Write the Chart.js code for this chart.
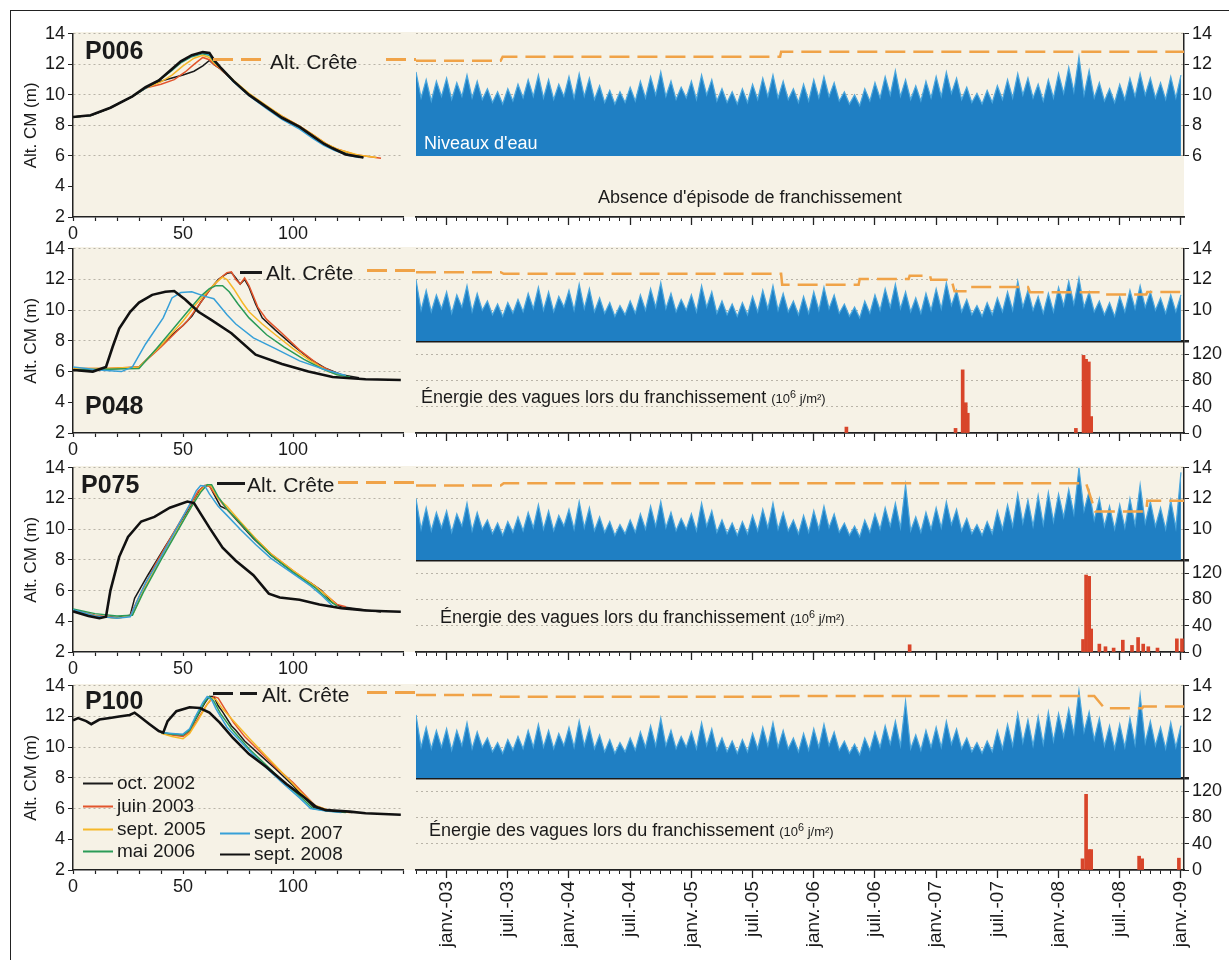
<!DOCTYPE html>
<html lang="fr">
<head>
<meta charset="UTF-8">
<title>Profils de dune et franchissements</title>
<script src="https://cdn.jsdelivr.net/npm/chart.js@4.4.1/dist/chart.umd.min.js"></script>
<style>
  body { margin: 0; background: #fff; font-family: 'Liberation Sans', Arial, sans-serif; color: #1a1a1a; }
  #figure { position: relative; width: 1229px; height: 960px; overflow: hidden; }
  .cadre { position: absolute; left: 10px; top: 10px; width: 1240px; height: 980px; border-left: 1.5px solid #222; border-top: 1.5px solid #222; }
  .fond { position: absolute; left: 73px; width: 1111px; background: #f6f2e6; }
  canvas { position: absolute; z-index: 1; }
  .txt { position: absolute; white-space: nowrap; line-height: 1; transform: translateY(-50%); z-index: 2; }
  .profil { font-weight: bold; font-size: 25px; }
  .crete { font-size: 21px; }
  .energie { font-size: 18px; }
  .energie small { font-size: 13px; }
  .trait { position: absolute; height: 2.5px; z-index: 2; }
  .noir { background: #1a1a1a; }
  .orange { background: repeating-linear-gradient(to right, #f0a348 0 20px, transparent 20px 28px); }
  .leg { font-size: 19px; }
  .leg i { display: inline-block; width: 30px; height: 2.5px; vertical-align: middle; margin-right: 4px; }
</style>
</head>
<body>
<div id="figure">
  <div class="cadre"></div>
  <div class="fond" style="top:32px;height:185px"></div>
  <div class="fond" style="top:247px;height:186px"></div>
  <div class="fond" style="top:466px;height:186px"></div>
  <div class="fond" style="top:684px;height:186px"></div>

  <div class="txt profil" style="left:85px;top:50px">P006</div>
  <div class="txt profil" style="left:85px;top:405px">P048</div>
  <div class="txt profil" style="left:81px;top:484px">P075</div>
  <div class="txt profil" style="left:85px;top:700px">P100</div>

  <div class="trait orange" style="left:213px;top:58px;width:52px"></div>
  <div class="txt crete" style="left:270px;top:61px">Alt. Crête</div>
  <div class="trait orange" style="left:386px;top:58px;width:30px"></div>

  <div class="trait noir" style="left:240px;top:271px;width:22px"></div>
  <div class="txt crete" style="left:266px;top:272px">Alt. Crête</div>
  <div class="trait orange" style="left:367px;top:269px;width:49px"></div>

  <div class="trait noir" style="left:217px;top:482px;width:28px"></div>
  <div class="txt crete" style="left:247px;top:484px">Alt. Crête</div>
  <div class="trait orange" style="left:338px;top:481px;width:78px"></div>

  <div class="trait noir" style="left:213px;top:692px;width:20px"></div>
  <div class="trait noir" style="left:240px;top:692px;width:17px"></div>
  <div class="txt crete" style="left:262px;top:694px">Alt. Crête</div>
  <div class="trait orange" style="left:367px;top:691px;width:49px"></div>

  <div class="txt" style="left:424px;top:143px;font-size:18px;color:#fff">Niveaux d'eau</div>
  <div class="txt" style="left:598px;top:197px;font-size:18px">Absence d'épisode de franchissement</div>
  <div class="txt energie" style="left:421px;top:397px">Énergie des vagues lors du franchissement <small>(10<sup>6</sup> j/m²)</small></div>
  <div class="txt energie" style="left:440px;top:617px">Énergie des vagues lors du franchissement <small>(10<sup>6</sup> j/m²)</small></div>
  <div class="txt energie" style="left:429px;top:830px">Énergie des vagues lors du franchissement <small>(10<sup>6</sup> j/m²)</small></div>

  <div id="legende"></div>
</div>

<script>
// ---- dates : mois comptés depuis janvier 2003 (0 = janv.-03, -3 = oct. 2002)
const etiquettesDates = ['janv.-03', 'juil.-03', 'janv.-04', 'juil.-04', 'janv.-05', 'juil.-05', 'janv.-06',
  'juil.-06', 'janv.-07', 'juil.-07', 'janv.-08', 'juil.-08', 'janv.-09'];
const moisMin = -3;
const moisMax = 72.3;

// ---- campagnes de levés
const campagnes = ['oct. 2002', 'juin 2003', 'sept. 2005', 'mai 2006', 'sept. 2007', 'sept. 2008'];
const couleurs = ['#1a1a1a', '#e2552c', '#f6b829', '#2b9b57', '#37a0d8', '#111111'];
const epaisseurs = [1.5, 1.5, 1.5, 1.5, 1.5, 2.6];

// ---- profils [distance (m), altitude (m CM)]
const p006_oct2002 = [[0,8.55],[8,8.65],[17,9.15],[27,9.9],[33,10.45],[40,10.9],[45,11.1],[50,11.3],[55,11.55],[59,11.9],[62,12.25],[64,12.0],[67,11.7],[73,10.9],[80,10.0],[88,9.2],[95,8.55],[103,7.9],[109,7.3],[114,6.8],[119,6.4],[125,6.1],[132,5.9]];
const p006_juin2003 = [[0,8.55],[8,8.65],[17,9.15],[27,9.9],[33,10.45],[40,10.7],[46,11.0],[51,11.5],[55,12.0],[59,12.45],[62,12.3],[64,12.0],[67,11.7],[73,10.9],[80,10.05],[88,9.25],[95,8.6],[103,7.95],[109,7.4],[115,6.8],[120,6.45],[128,6.1],[135,5.95],[140,5.85]];
const p006_sept2005 = [[0,8.55],[8,8.65],[17,9.15],[27,9.9],[33,10.45],[40,10.85],[45,11.3],[50,11.9],[55,12.4],[59,12.6],[62,12.45],[64,12.1],[67,11.75],[73,10.95],[80,10.1],[88,9.3],[95,8.6],[103,7.95],[109,7.4],[115,6.8],[121,6.4],[130,6.05],[138,5.9]];
const p006_mai2006 = [[0,8.55],[8,8.65],[17,9.15],[27,9.9],[33,10.45],[39,10.95],[45,11.6],[49,12.1],[54,12.5],[59,12.7],[62,12.6],[64,12.2],[67,11.8],[73,10.9],[80,10.0],[88,9.2],[95,8.5],[103,7.85],[109,7.25],[114,6.75],[119,6.4],[126,6.05],[131,5.95]];
const p006_sept2007 = [[0,8.55],[8,8.65],[17,9.15],[27,9.9],[33,10.45],[39,10.95],[45,11.65],[49,12.15],[54,12.55],[59,12.75],[62,12.65],[64,12.25],[67,11.8],[73,10.85],[80,9.95],[88,9.1],[95,8.4],[103,7.75],[109,7.15],[114,6.7],[119,6.35],[125,6.05],[130,5.9]];
const p006_sept2008 = [[0,8.55],[8,8.66],[17,9.16],[27,9.9],[33,10.5],[39,10.95],[45,11.7],[49,12.2],[54,12.6],[59,12.8],[62,12.75],[64,12.3],[67,11.8],[73,10.9],[80,10.0],[88,9.2],[95,8.5],[103,7.9],[109,7.3],[114,6.8],[118,6.5],[124,6.1],[132,5.9]];

const p048_oct2002 = [[0,6.2],[10,6.15],[20,6.2],[30,6.3],[35,7.0],[40,7.7],[45,8.4],[50,9.0],[54,9.6],[58,10.5],[62,11.3],[66,12.0],[70,12.4],[72,12.45],[74,12.1],[76,11.7],[78,12.0],[80,11.5],[83,10.4],[86,9.5],[92,8.7],[100,7.7],[108,6.8],[115,6.2],[122,5.8],[130,5.6]];
const p048_juin2003 = [[0,6.2],[15,6.2],[30,6.3],[40,7.6],[47,8.6],[52,9.3],[57,10.3],[62,11.3],[67,12.1],[70,12.45],[72,12.5],[74,12.0],[76,11.7],[78,12.1],[80,11.6],[84,10.2],[88,9.4],[95,8.5],[103,7.4],[112,6.4],[118,6.0],[124,5.7]];
const p048_sept2005 = [[0,6.2],[15,6.2],[30,6.3],[40,7.7],[50,9.3],[56,10.4],[61,11.2],[65,11.8],[68,12.15],[70,12.0],[73,11.4],[77,10.5],[80,9.9],[86,9.1],[92,8.4],[100,7.5],[108,6.7],[116,6.0],[124,5.7]];
const p048_mai2006 = [[0,6.1],[15,6.15],[30,6.2],[38,7.5],[45,8.7],[52,9.9],[58,10.9],[62,11.4],[65,11.6],[68,11.6],[71,11.2],[75,10.4],[80,9.5],[88,8.4],[96,7.6],[105,6.8],[113,6.2],[120,5.8],[126,5.65]];
const p048_sept2007 = [[0,6.3],[12,6.1],[22,6.0],[27,6.3],[33,7.8],[41,9.5],[45,10.8],[49,11.15],[54,11.2],[60,10.9],[64,10.75],[66,10.4],[70,9.7],[74,9.1],[82,8.2],[92,7.5],[103,6.7],[115,6.1],[124,5.75]];
const p048_sept2008 = [[0,6.1],[9,6.0],[15,6.3],[18,7.6],[21,8.8],[26,9.9],[30,10.5],[36,11.0],[42,11.2],[46,11.25],[51,10.7],[57,9.9],[63,9.35],[72,8.5],[83,7.1],[95,6.5],[107,6.0],[118,5.65],[133,5.5],[149,5.45]];

const p075_oct2002 = [[0,4.7],[10,4.35],[20,4.25],[26,4.4],[28,5.5],[34,7.0],[42,8.9],[50,10.7],[55,11.8],[58,12.6],[60,12.85],[62,12.85],[64,12.3],[67,11.5],[70,11.3],[75,10.5],[82,9.4],[90,8.3],[100,7.2],[108,6.5],[113,6.0],[118,5.2],[122,4.95],[135,4.7],[140,4.6]];
const p075_juin2003 = [[0,4.75],[10,4.4],[20,4.2],[26,4.35],[30,5.6],[37,7.6],[45,9.6],[52,11.3],[57,12.5],[60,12.85],[62,12.8],[65,12.2],[70,11.3],[76,10.4],[82,9.5],[90,8.4],[100,7.3],[110,6.3],[116,5.6],[120,5.1],[124,4.95]];
const p075_sept2005 = [[0,4.7],[10,4.35],[20,4.2],[27,4.4],[32,6.0],[40,8.1],[48,10.1],[54,11.5],[58,12.5],[61,12.9],[63,12.8],[66,12.0],[70,11.5],[76,10.5],[83,9.4],[90,8.4],[100,7.3],[110,6.3],[116,5.6],[120,5.0]];
const p075_mai2006 = [[0,4.8],[10,4.5],[20,4.35],[27,4.4],[32,5.9],[40,8.0],[48,10.0],[54,11.5],[58,12.4],[61,12.9],[63,12.9],[66,12.1],[70,11.3],[76,10.4],[83,9.3],[90,8.3],[100,7.2],[110,6.2],[116,5.4],[120,5.0]];
const p075_sept2007 = [[0,4.75],[10,4.35],[20,4.2],[26,4.3],[30,5.6],[33,6.5],[40,8.2],[48,10.3],[53,11.6],[56,12.5],[58,12.85],[60,12.8],[62,12.3],[66,11.5],[70,10.9],[76,10.0],[83,9.0],[90,8.1],[100,7.1],[108,6.3],[113,5.7],[118,5.0]];
const p075_sept2008 = [[0,4.65],[7,4.35],[12,4.2],[15,4.3],[17,6.0],[21,8.2],[25,9.5],[31,10.5],[37,10.8],[44,11.4],[52,11.8],[55,11.7],[62,10.1],[68,8.8],[74,7.95],[82,7.0],[89,5.8],[94,5.55],[103,5.4],[112,5.1],[122,4.85],[133,4.7],[142,4.65],[149,4.62]];

const p100_oct2002 = [[40,10.95],[45,10.85],[50,10.8],[53,11.1],[56,11.9],[60,12.9],[62,13.3],[64,13.3],[66,12.7],[68,12.3],[72,11.4],[74,11.1],[78,10.4],[85,9.5],[92,8.6],[100,7.5],[106,6.6],[110,6.0],[118,5.85],[127,5.75]];
const p100_juin2003 = [[40,10.95],[45,10.8],[50,10.7],[53,11.0],[57,11.9],[61,12.8],[64,13.3],[66,13.2],[69,12.5],[73,11.6],[78,10.7],[85,9.7],[92,8.7],[100,7.7],[106,6.8],[110,6.2],[116,5.9],[126,5.75]];
const p100_sept2005 = [[40,10.9],[45,10.7],[50,10.55],[53,10.9],[57,11.8],[61,12.8],[63,13.2],[65,13.1],[68,12.5],[73,11.7],[80,10.6],[88,9.4],[96,8.2],[104,7.0],[110,6.2],[116,5.9],[126,5.75]];
const p100_mai2006 = [[40,10.95],[45,10.85],[50,10.8],[53,11.1],[57,12.2],[60,13.0],[62,13.3],[64,13.0],[67,12.2],[72,11.2],[80,9.9],[88,8.8],[96,7.7],[104,6.7],[109,6.0],[116,5.85],[124,5.75]];
const p100_sept2007 = [[40,10.95],[45,10.9],[50,10.85],[53,11.2],[56,12.1],[59,12.9],[61,13.3],[63,13.1],[65,12.5],[70,11.3],[78,10.1],[86,8.9],[95,7.7],[103,6.7],[108,6.0],[115,5.85],[122,5.75]];
const p100_sept2008 = [[0,11.75],[2.3,11.9],[6,11.7],[8.3,11.5],[12,11.8],[16.7,11.9],[21,12.0],[25.8,12.1],[28,12.25],[30.3,12.0],[34.8,11.5],[39,11.05],[41,10.95],[43,11.7],[47,12.35],[53,12.6],[57.6,12.55],[62,12.25],[66.7,11.6],[72.7,10.6],[80,9.55],[88,8.7],[97,7.6],[104.5,6.8],[110.6,6.1],[115,5.9],[125.8,5.8],[133,5.7],[149,5.6]];

// ---- niveaux d'eau (m CM), une valeur tous les demi-mois depuis oct. 2002
const pasNiveaux = 0.5;
const niveauxP006 = [
  11.5, 9.8, 11.0, 9.6, 10.9, 9.9,
  11.1, 9.7, 10.8, 9.9, 11.3, 9.8, 10.9, 9.7, 10.4, 9.5, 10.2, 9.4, 10.4, 9.6, 10.7, 9.8, 11.0, 9.9, 11.3, 9.8, 11.0, 9.7, 10.7, 9.9,
  11.2, 9.8, 11.4, 9.9, 11.1, 9.7, 10.6, 9.5, 10.3, 9.4, 10.2, 9.5, 10.5, 9.6, 10.9, 9.8, 11.2, 10.0, 11.5, 9.9, 10.9, 9.7, 10.5, 9.8,
  10.9, 9.7, 11.3, 10.0, 11.0, 9.6, 10.4, 9.5, 10.2, 9.4, 10.4, 9.5, 10.7, 9.7, 11.1, 9.9, 11.3, 9.8, 10.9, 9.7, 10.4, 9.5, 10.7, 9.6,
  11.0, 9.8, 11.2, 9.9, 10.8, 9.6, 10.2, 9.4, 10.0, 9.3, 10.4, 9.6, 10.8, 9.8, 11.2, 10.0, 11.6, 9.9, 11.0, 9.7, 10.6, 9.6, 10.9, 9.8,
  11.2, 9.9, 11.5, 10.1, 11.1, 9.7, 10.5, 9.5, 10.1, 9.4, 10.3, 9.5, 10.6, 9.7, 11.0, 9.8, 11.4, 10.0, 11.1, 9.8, 10.7, 9.6, 11.0, 9.8,
  11.4, 10.1, 11.8, 10.2, 12.5, 10.0, 11.6, 9.8, 10.8, 9.6, 10.4, 9.5, 10.7, 9.7, 11.1, 9.9, 11.4, 10.0, 11.1, 9.8, 10.8, 9.7, 11.2, 9.8,
  11.3
];
const niveauxP048 = [
  12.0, 10.0, 11.3, 9.9, 11.0, 10.1,
  11.2, 9.8, 11.0, 10.2, 11.6, 9.9, 11.1, 10.0, 10.6, 9.7, 10.4, 9.6, 10.5, 9.8, 10.7, 9.9, 11.1, 10.1, 11.5, 10.0, 11.2, 9.9, 10.9, 10.2,
  11.3, 10.0, 11.7, 10.1, 11.4, 9.9, 10.8, 9.8, 10.5, 9.6, 10.3, 9.7, 10.6, 9.8, 11.0, 10.0, 11.4, 10.2, 11.8, 10.1, 11.1, 9.9, 10.7, 10.0,
  11.0, 9.9, 11.6, 10.2, 11.2, 9.8, 10.6, 9.7, 10.4, 9.6, 10.5, 9.7, 10.9, 9.9, 11.3, 10.1, 11.6, 10.0, 11.1, 9.9, 10.6, 9.7, 10.9, 9.8,
  11.2, 10.0, 11.5, 10.1, 11.0, 9.8, 10.4, 9.6, 10.2, 9.5, 10.6, 9.8, 11.0, 10.0, 11.4, 10.2, 11.7, 10.1, 11.2, 9.9, 10.8, 9.8, 11.1, 10.0,
  11.4, 10.1, 11.8, 10.3, 11.3, 9.9, 10.7, 9.7, 10.3, 9.6, 10.5, 9.7, 10.8, 9.9, 11.2, 10.0, 11.9, 10.2, 11.3, 10.0, 10.9, 9.8, 11.1, 9.9,
  11.5, 10.3, 11.9, 10.4, 12.1, 10.2, 11.2, 9.9, 10.6, 9.7, 10.5, 9.6, 10.9, 9.9, 11.3, 10.1, 11.6, 10.2, 11.2, 10.0, 10.8, 9.8, 11.0, 9.9,
  11.0
];
const niveauxP075 = [
  12.0, 10.0, 11.4, 9.9, 11.1, 10.1,
  11.2, 9.8, 11.0, 10.2, 11.7, 9.9, 11.1, 10.0, 10.6, 9.7, 10.4, 9.6, 10.5, 9.8, 10.8, 9.9, 11.1, 10.1, 11.6, 10.0, 11.2, 9.9, 10.9, 10.2,
  11.3, 10.0, 11.8, 10.1, 11.4, 9.9, 10.8, 9.8, 10.5, 9.6, 10.3, 9.7, 10.6, 9.8, 11.0, 10.0, 11.5, 10.2, 11.8, 10.1, 11.1, 9.9, 10.7, 10.0,
  11.0, 9.9, 11.7, 10.2, 11.2, 9.8, 10.6, 9.7, 10.4, 9.6, 10.5, 9.7, 10.9, 9.9, 11.3, 10.1, 11.7, 10.0, 11.1, 9.9, 10.6, 9.7, 10.9, 9.8,
  11.2, 10.0, 11.5, 10.1, 11.0, 9.8, 10.4, 9.6, 10.2, 9.5, 10.6, 9.8, 11.0, 10.0, 11.4, 10.2, 11.7, 10.1, 12.9, 9.9, 10.8, 9.8, 11.1, 10.0,
  11.4, 10.1, 11.8, 10.3, 11.3, 9.9, 10.7, 9.7, 10.3, 9.6, 10.5, 9.7, 11.2, 10.0, 11.6, 10.2, 12.3, 10.4, 11.9, 10.2, 12.2, 10.3, 12.4, 10.5,
  12.3, 10.8, 12.6, 11.0, 14.0, 11.2, 12.5, 10.6, 12.0, 10.2, 11.5, 10.0, 11.6, 10.1, 12.0, 10.3, 12.9, 10.4, 11.8, 10.2, 11.4, 10.0, 11.9, 10.1,
  13.7
];
const niveauxP100 = [
  12.1, 10.0, 11.3, 9.9, 11.1, 10.0,
  11.2, 9.8, 11.1, 10.1, 11.6, 9.9, 11.0, 10.0, 10.6, 9.7, 10.3, 9.6, 10.5, 9.8, 10.7, 9.9, 11.1, 10.0, 11.5, 10.0, 11.1, 9.9, 10.9, 10.1,
  11.3, 10.0, 11.7, 10.1, 11.3, 9.9, 10.8, 9.7, 10.5, 9.6, 10.3, 9.7, 10.6, 9.8, 11.0, 10.0, 11.4, 10.1, 11.9, 10.1, 11.1, 9.9, 10.7, 10.0,
  11.0, 9.9, 11.6, 10.1, 11.2, 9.8, 10.6, 9.7, 10.4, 9.6, 10.5, 9.7, 10.9, 9.9, 11.3, 10.1, 11.6, 10.0, 11.1, 9.9, 10.6, 9.7, 10.9, 9.8,
  11.2, 10.0, 11.5, 10.1, 11.0, 9.8, 10.4, 9.6, 10.2, 9.5, 10.6, 9.8, 11.0, 10.0, 11.4, 10.2, 11.7, 10.1, 13.0, 9.9, 10.8, 9.8, 11.1, 10.0,
  11.3, 10.0, 11.7, 10.2, 11.2, 9.9, 10.6, 9.7, 10.3, 9.6, 10.4, 9.7, 11.1, 9.9, 11.5, 10.1, 12.2, 10.3, 11.8, 10.1, 12.0, 10.2, 12.3, 10.4,
  12.2, 10.7, 12.5, 10.9, 13.7, 11.0, 12.3, 10.5, 11.9, 10.1, 11.4, 9.9, 11.5, 10.0, 11.9, 10.2, 13.4, 10.3, 11.7, 10.1, 11.3, 9.9, 11.6, 10.0,
  11.4
];

// ---- altitude de crête [mois, m CM]
const creteP006 = [[-3,12.23],[5.3,12.23],[5.5,12.5],[32.7,12.5],[32.8,12.83],[72.3,12.83]];
const creteP048 = [[-3,12.48],[5.3,12.48],[5.6,12.37],[32.8,12.37],[32.9,11.66],[40.4,11.66],[40.5,12.03],[45.3,12.03],[45.4,12.24],[47.4,12.24],[47.5,11.99],[49.5,11.99],[49.8,11.23],[51.0,11.23],[51.1,11.51],[57.0,11.51],[57.2,11.17],[64.5,11.17],[64.6,11.02],[68.6,11.02],[68.7,11.19],[72.3,11.19]];
const creteP075 = [[-3,12.84],[5.3,12.84],[5.6,12.99],[62.7,12.99],[63.6,11.16],[68.6,11.16],[68.7,11.85],[72.3,11.85]];
const creteP100 = [[-3,13.4],[4.8,13.4],[5.3,13.29],[32.5,13.29],[32.8,13.34],[63.5,13.34],[64.5,12.54],[68.2,12.54],[68.3,12.65],[72.3,12.65]];

// ---- énergie des vagues lors du franchissement [mois, 10^6 j/m²]
const energieP048 = [[39.2,9],[49.9,7],[50.6,96],[50.9,46],[51.1,30],[61.7,7],[62.45,118],[62.7,112],[62.97,108],[63.2,25]];
const energieP075 = [[45.4,11],[62.4,19],[62.7,117],[63.0,115],[63.2,35],[64.0,12],[64.6,8],[65.4,6],[66.3,18],[67.2,10],[67.8,22],[68.3,12],[68.8,8],[69.7,6],[71.6,20],[72.1,20]];
const energieP100 = [[62.35,17],[62.7,115],[62.97,31],[63.2,31],[67.9,21],[68.2,17],[71.8,18]];

const rangees = [
  { haut: 32, bas: 217, profils: [p006_oct2002, p006_juin2003, p006_sept2005, p006_mai2006, p006_sept2007, p006_sept2008], niveaux: niveauxP006, crete: creteP006, energie: null },
  { haut: 247, bas: 433, profils: [p048_oct2002, p048_juin2003, p048_sept2005, p048_mai2006, p048_sept2007, p048_sept2008], niveaux: niveauxP048, crete: creteP048, energie: energieP048 },
  { haut: 466, bas: 652, profils: [p075_oct2002, p075_juin2003, p075_sept2005, p075_mai2006, p075_sept2007, p075_sept2008], niveaux: niveauxP075, crete: creteP075, energie: energieP075 },
  { haut: 684, bas: 870, profils: [p100_oct2002, p100_juin2003, p100_sept2005, p100_mai2006, p100_sept2007, p100_sept2008], niveaux: niveauxP100, crete: creteP100, energie: energieP100 }
];

Chart.defaults.font.family = "'Liberation Sans', Arial, sans-serif";
Chart.defaults.color = '#1a1a1a';

const gris = '#b9b4a8';
const transparent = 'rgba(0,0,0,0)';
const options0 = {
  responsive: false,
  animation: false,
  events: [],
  plugins: { legend: { display: false }, tooltip: { enabled: false } }
};

function graphiqueProfil(canvas, r) {
  return new Chart(canvas, {
    type: 'line',
    data: {
      datasets: r.profils.map((p, i) => ({
        data: p,
        borderColor: couleurs[i],
        borderWidth: epaisseurs[i],
        pointRadius: 0,
        tension: 0,
        order: i === 5 ? 0 : 6 - i
      }))
    },
    options: {
      ...options0,
      layout: { padding: { top: 12, right: 7, left: 0, bottom: 0 } },
      scales: {
        x: {
          type: 'linear', min: 0, max: 150,
          afterFit: s => { s.height = 30; },
          ticks: { stepSize: 10, autoSkip: false, maxRotation: 0, font: { size: 18 }, padding: 2,
            callback: v => (v % 50 === 0 && v < 150) ? v : '' },
          grid: { drawOnChartArea: false, tickLength: 4, tickColor: '#222', tickWidth: 1.2 },
          border: { color: '#222', width: 1.5 }
        },
        y: {
          min: 2, max: 14,
          afterFit: s => { s.width = 63; },
          ticks: { stepSize: 2, autoSkip: false, font: { size: 18 }, padding: 3 },
          title: { display: true, text: 'Alt. CM (m)', font: { size: 17 }, padding: { top: 11, bottom: 0 } },
          grid: { color: c => c.tick && c.tick.value >= 6 ? gris : transparent, tickLength: 5,
            tickColor: '#222', tickBorderDash: [] },
          border: { color: '#222', width: 1.5, dash: [2, 3] }
        }
      }
    }
  });
}

function graphiqueSerie(canvas, r, hauteurAxeX, etiquettes) {
  const avecEnergie = r.energie !== null;
  const base = avecEnergie ? 8 : 6;
  const datasets = [
    {
      type: 'line',
      data: r.crete,
      xAxisID: 'x', yAxisID: 'yW',
      borderColor: '#f0a348', borderWidth: 2.5, borderDash: [20, 8],
      pointRadius: 0, tension: 0, order: 0
    },
    {
      type: 'line',
      data: r.niveaux.map((v, i) => [moisMin + i * pasNiveaux, v]),
      xAxisID: 'x', yAxisID: 'yW',
      borderColor: '#4ba7de', borderWidth: 1.2, backgroundColor: '#1f7fc3',
      fill: 'start', pointRadius: 0, tension: 0, order: 2
    }
  ];
  if (avecEnergie) {
    datasets.push({
      type: 'bar',
      data: r.energie.map(([m, e]) => ({ x: m, y: e })),
      xAxisID: 'x', yAxisID: 'yE',
      backgroundColor: '#d8452a', barThickness: 3, order: 1
    });
  }
  const yE = avecEnergie ? {
    position: 'right', stack: 'droite', stackWeight: 1, min: 0, max: 140,
    afterFit: s => { s.width = 45; },
    ticks: { stepSize: 40, includeBounds: false, autoSkip: false, font: { size: 18 }, padding: 3 },
    grid: { color: c => c.tick && c.tick.value > 0 ? gris : transparent, tickLength: 5, tickColor: '#222', tickBorderDash: [] },
    border: { color: '#222', width: 1.5, dash: [2, 3] }
  } : {
    position: 'right', stack: 'droite', stackWeight: 4, min: 2, max: 6,
    afterFit: s => { s.width = 45; },
    ticks: { display: false }, grid: { display: false }, border: { display: false }
  };
  return new Chart(canvas, {
    type: 'line',
    data: { datasets },
    options: {
      ...options0,
      layout: { padding: { top: 12, left: 4, right: 0, bottom: 0 } },
      scales: {
        xm: {
          type: 'linear', position: 'bottom', weight: 0, min: moisMin, max: moisMax, offset: false,
          afterFit: s => { s.height = 0; },
          ticks: { stepSize: 1, display: false, autoSkip: false, includeBounds: false },
          grid: { drawOnChartArea: false, tickLength: 4, tickColor: '#222', offset: false },
          border: { color: '#222', width: 1.5 }
        },
        x: {
          type: 'linear', position: 'bottom', weight: 1, min: moisMin, max: moisMax, offset: false,
          afterFit: s => { s.height = hauteurAxeX; },
          ticks: { stepSize: 6, includeBounds: false, autoSkip: false, display: etiquettes,
            minRotation: 90, maxRotation: 90, font: { size: 19 }, padding: 3,
            callback: v => etiquettesDates[Math.round(v / 6)] },
          grid: { drawOnChartArea: false, tickLength: 8, tickColor: '#222', tickWidth: 1.3, offset: false },
          border: { color: '#222', width: 1.5 }
        },
        yW: {
          position: 'right', stack: 'droite', stackWeight: avecEnergie ? 1 : 8, min: base, max: 14,
          afterFit: s => { s.width = 45; },
          ticks: { stepSize: 2, autoSkip: false, font: { size: 18 }, padding: 3,
            callback: v => (avecEnergie && v === 8) ? '' : v },
          grid: {
            color: c => (avecEnergie && c.tick && c.tick.value === 8) ? '#1a1a1a' : gris,
            lineWidth: c => (avecEnergie && c.tick && c.tick.value === 8) ? 2.5 : 1,
            tickLength: 5, tickColor: '#222', tickBorderDash: []
          },
          border: { color: '#222', width: 1.5,
            dash: c => (avecEnergie && c.tick && c.tick.value === 8) ? [] : [2, 3] }
        },
        yE
      }
    }
  });
}

const figure = document.getElementById('figure');
rangees.forEach((r, k) => {
  const derniere = k === rangees.length - 1;
  const hauteurAxeX = derniere ? 960 - r.bas : 30;

  const cg = document.createElement('canvas');
  cg.width = 400;
  cg.height = r.bas - r.haut + 12 + 30;
  cg.style.left = '10px';
  cg.style.top = (r.haut - 12) + 'px';
  figure.appendChild(cg);
  graphiqueProfil(cg, r);

  const cd = document.createElement('canvas');
  cd.width = 817;
  cd.height = r.bas - r.haut + 12 + hauteurAxeX;
  cd.style.left = '412px';
  cd.style.top = (r.haut - 12) + 'px';
  figure.appendChild(cd);
  graphiqueSerie(cd, r, hauteurAxeX, derniere);
});

// légende des campagnes (panneau P100)
const positionsLegende = [[83, 782], [83, 805], [83, 828], [83, 850], [220, 832], [220, 853]];
const legende = document.getElementById('legende');
campagnes.forEach((nom, i) => {
  const d = document.createElement('div');
  d.className = 'txt leg';
  d.style.left = positionsLegende[i][0] + 'px';
  d.style.top = positionsLegende[i][1] + 'px';
  d.innerHTML = '<i style="background:' + couleurs[i] + '"></i>' + nom;
  legende.appendChild(d);
});
</script>
</body>
</html>
